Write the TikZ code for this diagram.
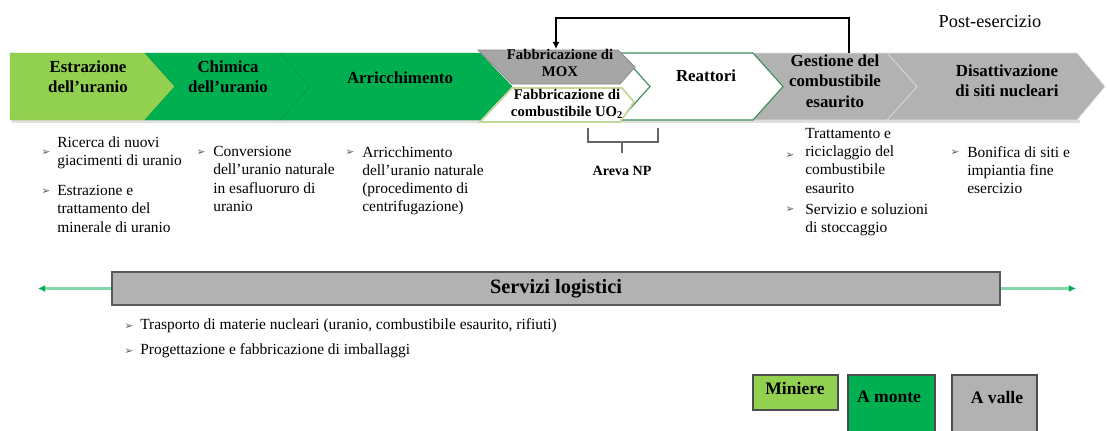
\documentclass[tikz,border=0pt]{standalone}
\usepackage{fontspec}
\setmainfont{Liberation Serif}
\newfontfamily\symfont{DejaVu Sans}
\usetikzlibrary{arrows.meta,positioning}

\definecolor{minegreen}{RGB}{146,208,80}
\definecolor{upgreen}{RGB}{0,176,80}
\definecolor{downgrey}{RGB}{178,178,178}
\definecolor{moxgrey}{RGB}{166,166,166}
\definecolor{reacgreen}{RGB}{60,140,90}
\definecolor{uoline}{RGB}{196,215,155}
\definecolor{logline}{RGB}{130,215,170}

\tikzset{
	chevlbl/.style={font=\fontsize{12}{14.5}\selectfont\bfseries, align=center},
	fablbl/.style={font=\fontsize{10.5}{12}\selectfont\bfseries, align=center, inner sep=0pt},
	item/.style={font=\fontsize{11}{13}\selectfont, align=left, anchor=north west, inner sep=0pt},
	bul/.style={font=\symfont\fontsize{7.5}{7.5}\selectfont, text=black!65, inner sep=0pt},
	legbox/.style={draw=black!70, line width=1pt},
	leglbl/.style={font=\fontsize{12.5}{14}\selectfont\bfseries},
	logibar/.style={draw=black!65, line width=1.2pt, fill=downgrey, minimum width=22.2cm, minimum height=0.825cm, font=\fontsize{14.5}{16}\selectfont\bfseries},
	logarrow/.style={draw=logline, line width=1.5pt, -{Latex[length=5pt,width=5pt,color=upgreen]}}
}

\begin{document}
\begin{tikzpicture}[x=0.025cm, y=-0.025cm]
	\newcommand\yt{53}
	\newcommand\ym{86.5}
	\newcommand\yb{120}
	\useasboundingbox (0,0) rectangle (1107,430);

	% shadow under the chain
	\fill[black!12] (12,\yb) rectangle (1080,\yb+3);

	% downstream
	\draw[fill=downgrey, draw=white!60!downgrey] (887,\yt) -- (1077,\yt) -- (1105,\ym) -- (1077,\yb) -- (887,\yb) -- (917,\ym) -- cycle;
	\draw[fill=downgrey, draw=white!60!downgrey] (753,\yt) -- (887,\yt) -- (917,\ym) -- (887,\yb) -- (753,\yb) -- (783,\ym) -- cycle;
	\draw[fill=white, draw=reacgreen, line width=0.8pt] (620,\yt) -- (753,\yt) -- (783,\ym) -- (753,\yb) -- (620,\yb) -- (650,\ym) -- cycle;

	% mines and upstream
	\draw[fill=minegreen, draw=minegreen!85!black, line width=0.3pt] (10,\yt) -- (145,\yt) -- (175,\ym) -- (145,\yb) -- (10,\yb) -- cycle;
	\draw[fill=upgreen, draw=upgreen!85!black, line width=0.3pt] (145,\yt) -- (280,\yt) -- (310,\ym) -- (280,\yb) -- (145,\yb) -- (175,\ym) -- cycle;
	\draw[fill=upgreen, draw=upgreen!85!black, line width=0.3pt] (280,\yt) -- (480,\yt) -- (512,\ym) -- (480,\yb) -- (280,\yb) -- (310,\ym) -- cycle;

	% fuel fabrication
	\draw[fill=moxgrey, draw=black!45, line width=0.6pt] (478,50) -- (618,50) -- (635,67) -- (620,84) -- (512,84) -- cycle;
	\draw[fill=white, draw=uoline, line width=1.2pt] (512,88) -- (622,88) -- (634,102) -- (620,122) -- (480,122) -- cycle;

	\node[chevlbl] (estr) at (88,77) {Estrazione\\dell'uranio};
	\node[chevlbl] (chim) at (228,77) {Chimica\\dell'uranio};
	\node[chevlbl] (arri) at (400,78) {Arricchimento};
	\node[fablbl] (mox) at (560,63) {Fabbricazione di\\MOX};
	\node[fablbl] (uo) at (567,104) {Fabbricazione di\\combustibile UO\textsubscript{2}};
	\node[chevlbl] (reat) at (706,76) {Reattori};
	\node[chevlbl] (gest) at (835,81) {Gestione del\\combustibile\\esaurito};
	\node[chevlbl] (disa) at (1007,81) {Disattivazione\\di siti nucleari};
	\node[font=\fontsize{13}{15}\selectfont] (post) at (990,22) {Post-esercizio};

	% MOX recycling
	\coordinate (gtop) at (849,\yt);
	\coordinate (mtop) at (556,49);
	\draw[line width=1pt, -{Latex[length=5pt,width=5pt]}] (gtop) -- (849,18) -| (mtop);

	% Areva NP
	\draw[black!60, line width=1.2pt] (588,128) -- (588,142) -- (658,142) -- (658,128);
	\node[font=\fontsize{10}{12}\selectfont\bfseries] (areva) at (622,171) {Areva NP};
	\draw[black!60, line width=1.2pt, shorten >=6pt] (622,142) -- (areva.north);

	% activities
	\node[item] (ric) at (57,136) {Ricerca di nuovi\\giacimenti di uranio};
	\node[item] (estrb) at (57,185) {Estrazione e\\trattamento del\\minerale di uranio};
	\node[item] (conv) at (213,146) {Conversione\\dell'uranio naturale\\in esafluoruro di\\uranio};
	\node[item] (arrb) at (362,146) {Arricchimento\\dell'uranio naturale\\(procedimento di\\centrifugazione)};
	\node[item] (tratt) at (805,128) {Trattamento e\\riciclaggio del\\combustibile\\esaurito};
	\node[item] (stocc) at (805,203) {Servizio e soluzioni\\di stoccaggio};
	\node[item] (bonif) at (967,146) {Bonifica di siti e\\impiantia fine\\esercizio};

	\node[bul] at (46,153) {➢};
	\node[bul] at (46,192) {➢};
	\node[bul] at (201,153) {➢};
	\node[bul] at (350,153) {➢};
	\node[bul] at (790,156) {➢};
	\node[bul] at (790,210) {➢};
	\node[bul] at (955,153) {➢};

	% logistics
	\node[logibar] (logi) at (556,288.5) {Servizi logistici};
	\coordinate (lend) at (38,288.5);
	\coordinate (rend) at (1076,288.5);
	\draw[logarrow] (logi.west) -- (lend);
	\draw[logarrow] (logi.east) -- (rend);

	\node[item] (trasp) at (140,318) {Trasporto di materie nucleari (uranio, combustibile esaurito, rifiuti)};
	\node[item] (prog) at (140,343) {Progettazione e fabbricazione di imballaggi};
	\node[bul] at (129,327) {➢};
	\node[bul] at (129,352) {➢};

	% legend
	\draw[legbox, fill=minegreen] (753,375) rectangle (838,410);
	\draw[legbox, fill=upgreen] (848,375) rectangle (935,440);
	\draw[legbox, fill=downgrey] (952,375) rectangle (1037,440);
	\node[leglbl] (mine) at (795,388) {Miniere};
	\node[leglbl] (amonte) at (889,397) {A monte};
	\node[leglbl] (avalle) at (997,397) {A valle};
\end{tikzpicture}
\end{document}
